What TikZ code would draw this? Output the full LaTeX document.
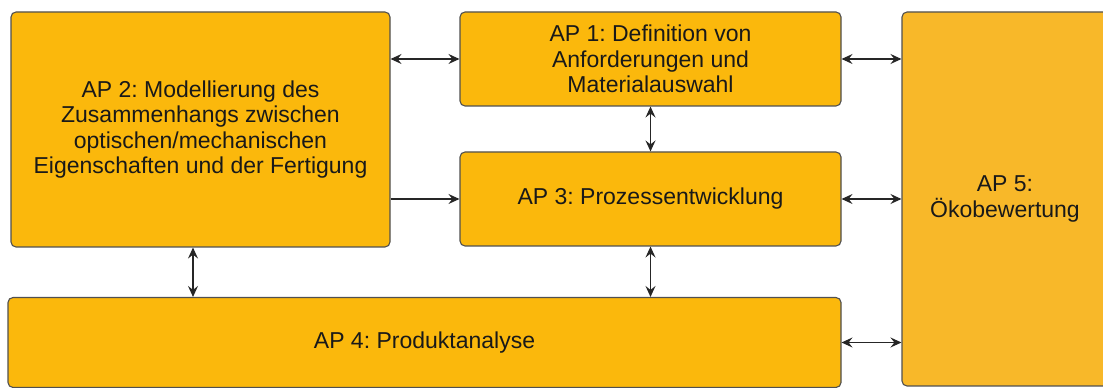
\documentclass[tikz,border=0pt]{standalone}
\usepackage{fontspec}
\setmainfont{Liberation Sans}
\usetikzlibrary{arrows.meta}
\definecolor{apfill}{HTML}{FBB80C}
\definecolor{apfive}{HTML}{F8B829}
\definecolor{apline}{HTML}{505050}
\frenchspacing
\begin{document}
\begin{tikzpicture}[x=1pt,y=1pt,
  ap/.style={draw=apline, line width=1.1pt, fill=apfill, rounded corners=5pt,
    inner sep=0pt, align=center, font=\fontsize{23}{25.5}\selectfont, text=black!90},
  tip/.tip={Stealth[length=11pt,width=10pt,inset=4pt]},
  conn/.style={line width=1.2pt, draw=black!85, tip-tip},
  oneway/.style={line width=1.2pt, draw=black!85, -tip}]
\useasboundingbox (0,0) rectangle (1103,388);
\fill[white] (0,0) rectangle (1103,388);
\node[ap, minimum width=379pt, minimum height=235pt] (ap2) at (200.5,258.5)
  {AP 2: Modellierung des\\Zusammenhangs zwischen\\optischen/mechanischen\\Eigenschaften und der Fertigung};
\node[ap, minimum width=381pt, minimum height=94pt] (ap1) at (650.5,329)
  {AP 1: Definition von\\Anforderungen und\\Materialauswahl};
\node[ap, minimum width=381pt, minimum height=94pt] (ap3) at (650.5,189)
  {AP 3: Prozessentwicklung};
\node[ap, minimum width=833pt, minimum height=90pt] (ap4) at (424.5,45.5)
  {AP 4: Produktanalyse};
\node[ap, fill=apfive, minimum width=206pt, minimum height=374pt] (ap5) at (1005,189)
  {AP 5:\\Ökobewertung};
\draw[conn] (ap1.west -| ap2.east) -- (ap1.west);
\draw[oneway] (ap3.west -| ap2.east) -- (ap3.west);
\draw[conn] (ap1.south) -- (ap3.north);
\draw[conn] ([xshift=-7.5pt]ap2.south) -- ([xshift=-7.5pt]ap2.south |- ap4.north);
\draw[conn] (ap3.south) -- (ap3.south |- ap4.north);
\draw[conn] (ap1.east) -- (ap1.east -| ap5.west);
\draw[conn] (ap3.east) -- (ap3.east -| ap5.west);
\draw[conn] (ap4.east) -- (ap4.east -| ap5.west);
\end{tikzpicture}
\end{document}
